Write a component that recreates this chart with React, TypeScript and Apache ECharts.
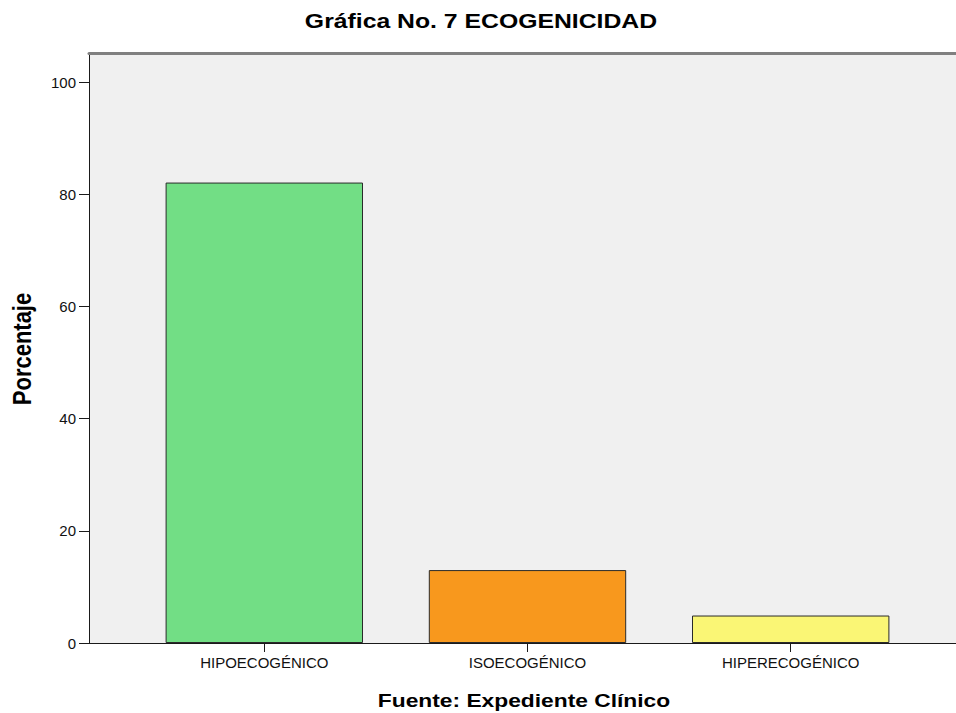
import React, { useEffect, useRef } from "react";
import * as echarts from "echarts";

const categories = ["HIPOECOGÉNICO", "ISOECOGÉNICO", "HIPERECOGÉNICO"];
const percentages = [82.1, 13.0, 4.9];
const barColors = ["#72DE85", "#F8981D", "#FAF675"];
const yTicks = [0, 20, 40, 60, 80, 100];
const yMax = 105.2;
const titleText = "Gráfica No. 7 ECOGENICIDAD";
const yName = "Porcentaje";
const xName = "Fuente: Expediente Clínico";

const FONT = '"Liberation Sans", Arial, sans-serif';

export default function App() {
  const ref = useRef<HTMLDivElement>(null);
  useEffect(() => {
    document.body.style.margin = "0";
    const chart = echarts.init(ref.current!, null, { renderer: "svg" });
    chart.setOption({
      animation: false,
      backgroundColor: "#ffffff",
      grid: [
        { left: 89, top: 53, right: 0, bottom: 70, show: true, backgroundColor: "#F0F0F0", borderWidth: 0 },
        { left: 132.7, top: 53, right: 33.7, bottom: 70, show: false },
      ],
      xAxis: [
        {
          gridIndex: 0, type: "value", min: 0, max: 1, position: "bottom",
          axisLine: { show: true, lineStyle: { color: "#1a1a1a", width: 1 } },
          axisTick: { show: false }, axisLabel: { show: false }, splitLine: { show: false },
        },
        {
          gridIndex: 0, type: "value", min: 0, max: 1, position: "top",
          axisLine: { show: true, lineStyle: { color: "#808080", width: 3 } },
          axisTick: { show: false }, axisLabel: { show: false }, splitLine: { show: false },
        },
        {
          gridIndex: 1, type: "category", data: categories, position: "bottom",
          axisLine: { show: true, lineStyle: { color: "#1a1a1a", width: 1 } },
          axisTick: { show: true, alignWithLabel: true, length: 9, lineStyle: { color: "#1a1a1a" } },
          axisLabel: { fontSize: 15, color: "#111", fontFamily: FONT, margin: 12 },
          splitLine: { show: false },
        },
      ],
      yAxis: [
        {
          gridIndex: 0, type: "value", min: 0, max: yMax,
          axisLine: { show: true, lineStyle: { color: "#1a1a1a", width: 1 } },
          axisTick: { show: true, length: 10, customValues: yTicks, lineStyle: { color: "#1a1a1a" } },
          axisLabel: { fontSize: 15, color: "#111", fontFamily: FONT, margin: 13, customValues: yTicks },
          splitLine: { show: false },
        },
        { gridIndex: 1, type: "value", min: 0, max: yMax, show: false },
      ],
      series: [
        {
          type: "bar",
          xAxisIndex: 2,
          yAxisIndex: 1,
          barWidth: "75%",
          data: percentages.map((v, i) => ({ value: v, itemStyle: { color: barColors[i] } })),
          itemStyle: { borderColor: "#2a2a2a", borderWidth: 1 },
        },
      ],
      graphic: [
        {
          type: "text", x: 481, y: 21, scaleX: 1.18,
          style: {
            text: titleText, fontSize: 21, fontWeight: "bold", fontFamily: FONT, fill: "#000",
            textAlign: "center", textVerticalAlign: "middle", align: "center", verticalAlign: "middle",
          },
        },
        {
          type: "text", x: 524, y: 700, scaleX: 1.2,
          style: {
            text: xName, fontSize: 19, fontWeight: "bold", fontFamily: FONT, fill: "#000",
            textAlign: "center", textVerticalAlign: "middle", align: "center", verticalAlign: "middle",
          },
        },
        {
          type: "text", x: 22, y: 349, rotation: Math.PI / 2, scaleY: 1.18,
          style: {
            text: yName, fontSize: 22, fontWeight: "bold", fontFamily: FONT, fill: "#000",
            textAlign: "center", textVerticalAlign: "middle", align: "center", verticalAlign: "middle",
          },
        },
      ],
    });
    return () => chart.dispose();
  }, []);
  return <div ref={ref} style={{ position: "absolute", left: 0, top: 0, width: 956, height: 713 }} />;
}
